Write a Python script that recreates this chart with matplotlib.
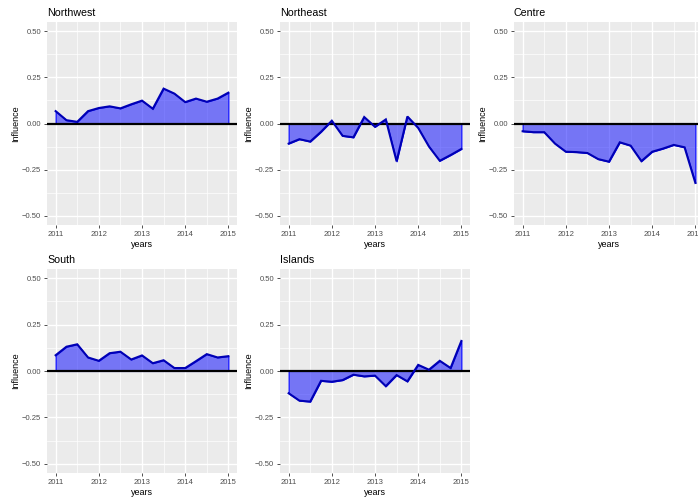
import numpy as np
import matplotlib
matplotlib.use("Agg")
import matplotlib.pyplot as plt

plt.rcParams['font.family'] = ['Liberation Sans', 'DejaVu Sans']

# quarterly observations 2011 - 2015
years = [2011.0, 2011.25, 2011.5, 2011.75, 2012.0, 2012.25, 2012.5, 2012.75,
         2013.0, 2013.25, 2013.5, 2013.75, 2014.0, 2014.25, 2014.5, 2014.75, 2015.0]

northwest = [0.067, 0.018, 0.009, 0.067, 0.084, 0.093, 0.082, 0.104,
             0.124, 0.080, 0.189, 0.162, 0.116, 0.135, 0.118, 0.135, 0.167]
northeast = [-0.109, -0.085, -0.098, -0.045, 0.015, -0.067, -0.075, 0.035,
             -0.018, 0.022, -0.205, 0.038, -0.024, -0.125, -0.202, -0.171, -0.138]
centre = [-0.042, -0.047, -0.047, -0.109, -0.153, -0.155, -0.160, -0.193,
          -0.207, -0.102, -0.120, -0.204, -0.153, -0.136, -0.116, -0.129, -0.322]
south = [0.085, 0.131, 0.144, 0.073, 0.055, 0.096, 0.104, 0.062,
         0.084, 0.042, 0.058, 0.016, 0.016, 0.053, 0.091, 0.073, 0.080]
islands = [-0.120, -0.160, -0.165, -0.053, -0.058, -0.049, -0.020, -0.029,
           -0.025, -0.082, -0.022, -0.056, 0.033, 0.007, 0.055, 0.016, 0.162]

regions = ["Northwest", "Northeast", "Centre", "South", "Islands"]
series = [northwest, northeast, centre, south, islands]

x_ticks = [2011, 2012, 2013, 2014, 2015]
y_ticks = [-0.5, -0.25, 0.0, 0.25, 0.5]
y_labels = ["\u22120.50", "\u22120.25", "0.00", "0.25", "0.50"]

W, H = 698, 497
fig = plt.figure(figsize=(W / 100, H / 100), dpi=100)

# panel boxes in pixels: left, top, right, bottom
cols = [(47, 237), (280, 470), (514, 704)]
rows = [(22, 225), (269, 473)]

for i, (name, vals) in enumerate(zip(regions, series)):
    r, c = divmod(i, 3)
    l, rr = cols[c]
    t, b = rows[r]
    ax = fig.add_axes([l / W, 1 - b / H, (rr - l) / W, (b - t) / H])
    ax.set_facecolor('#EBEBEB')
    for s in ax.spines.values():
        s.set_visible(False)

    x = np.array(years)
    y = np.array(vals)
    ax.fill_between(x, y, 0, facecolor=(0, 0, 1, 0.5), edgecolor='blue',
                    linewidth=0.8, interpolate=True, zorder=2)
    ax.axhline(0, color='black', lw=1.6, zorder=3)
    ax.plot(x, y, color='#0000B4', lw=1.5, zorder=4, solid_joinstyle='miter')

    ax.set_xlim(2011 - 0.2, 2015 + 0.2)
    ax.set_ylim(-0.55, 0.55)
    ax.set_xticks(x_ticks)
    ax.set_xticklabels([str(v) for v in x_ticks])
    ax.set_yticks(y_ticks)
    ax.set_yticklabels(y_labels)
    ax.set_xticks([2011.5, 2012.5, 2013.5, 2014.5], minor=True)
    ax.set_yticks([-0.375, -0.125, 0.125, 0.375], minor=True)
    ax.grid(which='major', color='white', lw=1.0, zorder=0)
    ax.grid(which='minor', color='white', lw=0.5, zorder=0)
    ax.set_axisbelow(True)
    ax.tick_params(which='major', length=2.2, width=0.6, color='#333333',
                   labelsize=5.5, labelcolor='#4D4D4D', pad=2)
    ax.tick_params(which='minor', length=0)

    ax.set_xlabel("years", fontsize=6.5, labelpad=1.5)
    ax.set_ylabel("Influence", fontsize=6.5, labelpad=1.2)
    ax.set_title(name, loc='left', fontsize=7.7, pad=4)

fig.savefig("out.png", dpi=100)
